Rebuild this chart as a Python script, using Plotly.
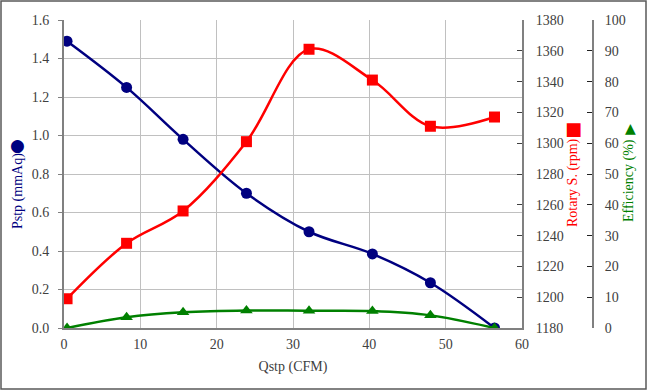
import plotly.graph_objects as go

# Data
qstp = [0.4, 8.2, 15.6, 23.9, 32.1, 40.4, 48.0, 56.4]
pstp = [1.49, 1.25, 0.98, 0.70, 0.50, 0.385, 0.235, 0.0]
rpm = [1199, 1235, 1256, 1301, 1361, 1341, 1311, 1317]
eff = [0.0, 3.5, 5.1, 5.7, 5.6, 5.5, 4.1, 0.0]

W, H = 647, 390
L, R, T, B = 64, 7, 20, 62
plot_w = W - L - R  # paper width in px
x_right_px = 522
eff_axis_px = 593
xdom = (x_right_px - L) / plot_w
pos3 = (eff_axis_px - L) / plot_w

font_family = "Liberation Serif"
navy = "#000080"
red = "#FF0000"
green = "#008000"
grid = "#C0C0C0"
axis_c = "#808080"

fig = go.Figure()
fig.add_trace(go.Scatter(x=qstp, y=pstp, mode="lines+markers", yaxis="y",
                         line=dict(color=navy, width=2.5, shape="spline"),
                         marker=dict(symbol="circle", size=11, color=navy),
                         name="Pstp"))
fig.add_trace(go.Scatter(x=qstp, y=rpm, mode="lines+markers", yaxis="y2",
                         line=dict(color=red, width=2.5, shape="spline"),
                         marker=dict(symbol="square", size=11, color=red),
                         name="Rotary S."))
fig.add_trace(go.Scatter(x=qstp, y=eff, mode="lines+markers", yaxis="y3",
                         line=dict(color=green, width=2.5, shape="spline"),
                         marker=dict(symbol="triangle-up", size=11, color=green),
                         name="Efficiency"))

tickfont = dict(family=font_family, size=14, color="#404040")

fig.update_layout(
    template="none",
    width=W, height=H,
    margin=dict(l=L, r=R, t=T, b=B, pad=0),
    paper_bgcolor="white", plot_bgcolor="white",
    showlegend=False,
    font=dict(family=font_family, size=14, color="#404040"),
    xaxis=dict(domain=[0, xdom], range=[0, 60], dtick=10, showgrid=True,
               gridcolor=grid, gridwidth=1, zeroline=False, automargin=False,
               showline=True, linecolor=axis_c, linewidth=2,
               ticks="", tickfont=tickfont, ticklabelstandoff=2,
               title=dict(text="Qstp (CFM)", font=dict(family=font_family, size=14, color="#404040"),
                          standoff=10)),
    yaxis=dict(range=[0, 1.6], dtick=0.2, tickformat=".1f", showgrid=True,
               gridcolor=grid, gridwidth=1, zeroline=False, automargin=False,
               showline=True, linecolor=axis_c, linewidth=2,
               ticks="outside", ticklen=4, tickcolor=axis_c,
               tickfont=tickfont, ticklabelstandoff=6),
    yaxis2=dict(range=[1180, 1380], dtick=20, overlaying="y", side="right",
                anchor="x", showgrid=False, zeroline=False, automargin=False,
                showline=True, linecolor=axis_c, linewidth=2,
                ticks="inside", ticklen=5, tickcolor="#404040",
                tickfont=tickfont, ticklabelstandoff=9),
    yaxis3=dict(range=[0, 100], dtick=10, overlaying="y", side="right",
                anchor="free", position=pos3, showgrid=False, zeroline=False,
                automargin=False,
                showline=True, linecolor=axis_c, linewidth=2,
                ticks="inside", ticklen=5, tickcolor="#202020",
                tickfont=tickfont, ticklabelstandoff=8),
)

def px_x(px):
    return (px - L) / plot_w

def px_y(py):
    return 1 - (py - T) / (H - T - B)

def label(xc, yc, text, color):
    fig.add_annotation(x=px_x(xc), y=px_y(yc), xref="paper", yref="paper",
                       text=text, textangle=-90, showarrow=False,
                       xanchor="center", yanchor="middle",
                       font=dict(family=font_family, size=14, color=color))

def symbol(xc, yc, text, color, size):
    fig.add_annotation(x=px_x(xc), y=px_y(yc), xref="paper", yref="paper",
                       text=text, showarrow=False,
                       xanchor="center", yanchor="middle",
                       font=dict(family="DejaVu Sans", size=size, color=color))

label(18, 191, "Pstp (mmAq)", navy)
symbol(17, 145, "●", navy, 17)
label(573, 183, "Rotary S. (rpm)", red)
symbol(573, 128, "■", red, 18)
label(629, 181, "Efficiency (%)", green)
symbol(630, 128, "▲", green, 14)

# outer border
fig.add_shape(type="rect", xref="paper", yref="paper",
              x0=px_x(1), x1=px_x(W - 1), y0=px_y(H - 1), y1=px_y(1),
              line=dict(color="#595959", width=1.5), fillcolor="rgba(0,0,0,0)")

fig.write_html("out.html", post_script="document.body.style.margin='0';",
               config={"displayModeBar": False})
